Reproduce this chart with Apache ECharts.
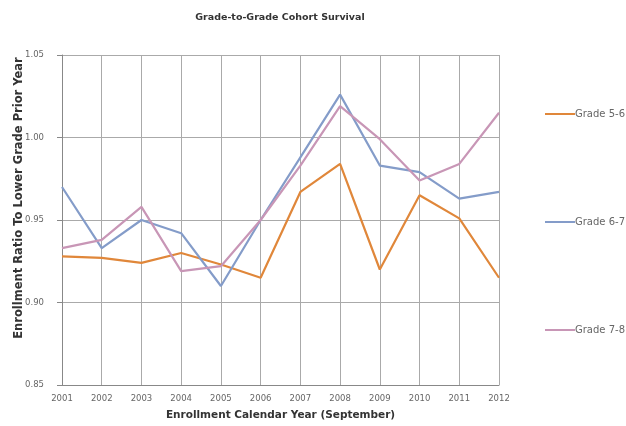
<!DOCTYPE html>
<html><head><meta charset="utf-8">
<script src="https://cdn.jsdelivr.net/npm/echarts@6/dist/echarts.min.js"></script>
<style>html,body{margin:0;padding:0;background:#fff}#c{width:626px;height:426px}</style>
</head><body><div id="c"></div>
<script>
const years = ['2001','2002','2003','2004','2005','2006','2007','2008','2009','2010','2011','2012'];
const grade56 = [0.928,0.927,0.924,0.930,0.923,0.915,0.967,0.984,0.920,0.965,0.951,0.915];
const grade67 = [0.970,0.933,0.950,0.942,0.910,0.950,0.988,1.026,0.983,0.979,0.963,0.967];
const grade78 = [0.933,0.938,0.958,0.919,0.922,0.950,0.983,1.019,0.999,0.974,0.984,1.015];
const yTicks = [0.85,0.90,0.95,1.00,1.05];
const names = ['Grade 5-6','Grade 6-7','Grade 7-8'];
const colors = ['#E0873A','#849CC9','#C896B6'];

const FONT = 'DejaVu Sans';
const chart = echarts.init(document.getElementById('c'));
const mk = (name, data, color) => ({
  name, type:'line', data, symbol:'none', smooth:false,
  lineStyle:{color, width:2.2}, itemStyle:{color}
});
chart.setOption({
  animation:false,
  title:{text:'Grade-to-Grade Cohort Survival', left:275, top:8, textAlign:'center',
    textStyle:{fontFamily:FONT, fontSize:9.5, fontWeight:'bold', color:'#333'}},
  grid:{left:62, right:127, top:55, bottom:41},
  legend:{orient:'vertical', left:540, top:104, itemGap:98, itemWidth:30, itemHeight:2,
    icon:'rect', data:names,
    textStyle:{fontFamily:FONT, fontSize:10, color:'#666', padding:[0,0,0,-5]}},
  graphic:[{type:'text', x:19, y:198, rotation:Math.PI/2,
    style:{text:'Enrollment Ratio To Lower Grade Prior Year', align:'center', verticalAlign:'middle',
      font:'bold 11.5px "DejaVu Sans"', fill:'#333'}}],
  xAxis:{type:'category', data:years, boundaryGap:false,
    name:'Enrollment Calendar Year (September)', nameLocation:'middle', nameGap:25,
    nameTextStyle:{fontFamily:FONT, fontSize:10.5, fontWeight:'bold', color:'#333', verticalAlign:'top'},
    axisLine:{lineStyle:{color:'#888'}},
    axisTick:{show:false},
    axisLabel:{fontFamily:FONT, fontSize:8.5, color:'#666', margin:9},
    splitLine:{show:true, lineStyle:{color:'#aaa', width:1}}},
  yAxis:{type:'value', min:0.85, max:1.05, interval:0.05,
    axisLine:{show:true, lineStyle:{color:'#888'}},
    axisTick:{show:true, length:5, lineStyle:{color:'#888'}},
    axisLabel:{fontFamily:FONT, fontSize:8.5, color:'#666', margin:18,
      formatter:v=>v.toFixed(2)},
    splitLine:{show:true, lineStyle:{color:'#aaa', width:1}}},
  series:[mk(names[0],grade56,colors[0]), mk(names[1],grade67,colors[1]), mk(names[2],grade78,colors[2])]
});
</script></body></html>
